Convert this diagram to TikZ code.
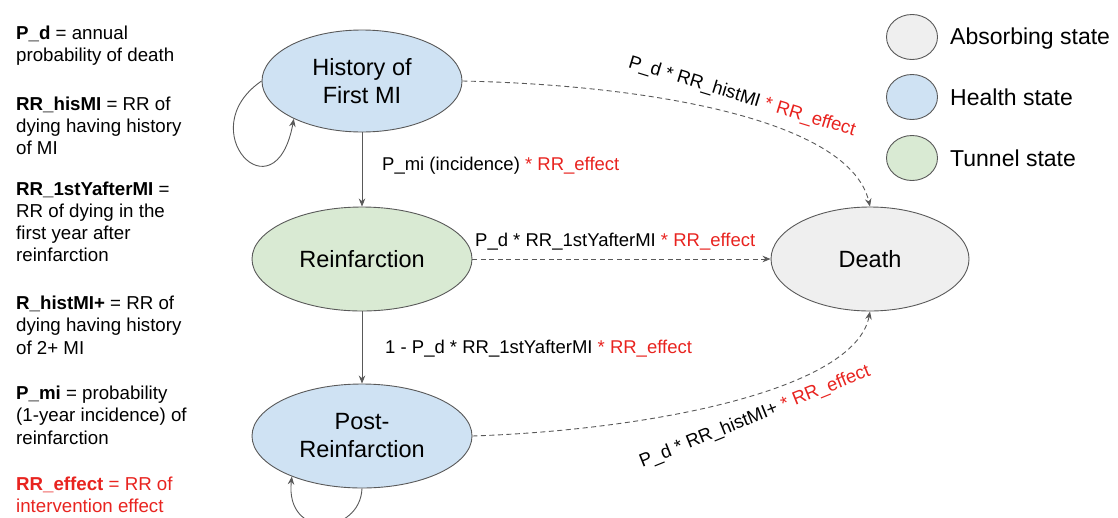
\documentclass[tikz,border=0pt]{standalone}
\usepackage{fontspec}
\setmainfont{Liberation Sans}
\usetikzlibrary{shapes.geometric,arrows.meta}
\definecolor{linegray}{HTML}{595959}
\definecolor{healthblue}{HTML}{CFE2F3}
\definecolor{tunnelgreen}{HTML}{D9EAD3}
\definecolor{absgray}{HTML}{EFEFEF}
\definecolor{effred}{HTML}{E8231F}
\begin{document}
\begin{tikzpicture}[x=1pt,y=1pt,
  state/.style={ellipse, draw=linegray, line width=0.9pt, inner sep=0pt, align=center,
    font=\fontsize{23.5}{28}\selectfont},
  solidedge/.style={draw=linegray, line width=0.9pt, -{Stealth[length=8pt,width=6.5pt]}},
  dashededge/.style={draw=linegray, line width=0.9pt, dash pattern=on 5pt off 3.5pt,
    -{Stealth[length=8pt,width=6.5pt]}},
  elabel/.style={inner sep=0pt, font=\fontsize{18.5}{22}\selectfont},
  deftext/.style={inner sep=0pt, align=left, font=\fontsize{18.7}{22.3}\selectfont},
  legcirc/.style={ellipse, draw=linegray, line width=0.9pt, minimum width=51pt, minimum height=45pt, inner sep=0pt},
  legtext/.style={inner sep=0pt, font=\fontsize{23}{27}\selectfont}
]
\useasboundingbox (0,0) rectangle (1118,-517);

% definitions on the left (anchor = baseline of the last line)
\node[deftext, anchor=base west] (d1) at (16,-61.8) {\textbf{P\_d} = annual\\probability of death};
\node[deftext, anchor=base west] (d2) at (16,-154.6) {\textbf{RR\_hisMI} = RR of\\dying having history\\of MI};
\node[deftext, anchor=base west] (d3) at (16,-261.9) {\textbf{RR\_1stYafterMI} =\\RR of dying in the\\first year after\\reinfarction};
\node[deftext, anchor=base west] (d4) at (16,-354.1) {\textbf{R\_histMI+} = RR of\\dying having history\\of 2+ MI};
\node[deftext, anchor=base west] (d5) at (16,-444.1) {\textbf{P\_mi} = probability\\(1-year incidence) of\\reinfarction};
\node[deftext, anchor=base west, text=effred] (d6) at (16,-512.3) {\textbf{RR\_effect} = RR of\\intervention effect};

% states
\node[state, fill=healthblue, minimum width=200pt, minimum height=102pt] (hist) at (362,-81) {History of\\First MI};
\node[state, fill=tunnelgreen, minimum width=220pt, minimum height=104pt] (reinf) at (362,-259) {Reinfarction};
\node[state, fill=healthblue, minimum width=220pt, minimum height=104pt] (post) at (362,-436) {Post-\\Reinfarction};
\node[state, fill=absgray, minimum width=198pt, minimum height=104pt] (death) at (870,-259) {Death};

% transitions
\draw[solidedge] (hist.south) -- (reinf.north);
\draw[solidedge] (reinf.south) -- (post.north);
\draw[dashededge] (reinf.east) -- (death.west);
\draw[dashededge] (hist.east) .. controls (650,-85) and (850,-120) .. (death.north);
\draw[dashededge] (post.east) .. controls (650,-430) and (855,-390) .. (death.south);

% self loops
\draw[solidedge] (hist.west) .. controls (190,-130) and (275,-220) .. (hist.209);
\draw[solidedge] (post.south) .. controls (360,-535) and (285,-540) .. (post.210);

% transition labels
\node[elabel, anchor=base west] (l1) at (382,-170) {P\_mi (incidence) \textcolor{effred}{* RR\_effect}};
\node[elabel, anchor=base west] (l2) at (475,-246) {P\_d * RR\_1stYafterMI \textcolor{effred}{* RR\_effect}};
\node[elabel, anchor=base west] (l3) at (385,-353.5) {1 - P\_d * RR\_1stYafterMI \textcolor{effred}{* RR\_effect}};
\node[elabel, rotate=-17] (l4) at (742,-97) {P\_d * RR\_histMI \textcolor{effred}{* RR\_effect}};
\node[elabel, rotate=22] (l5) at (755,-417) {P\_d * RR\_histMI+ \textcolor{effred}{* RR\_effect}};

% legend
\node[legcirc, fill=absgray] (g1) at (912,-37) {};
\node[legcirc, fill=healthblue] (g2) at (912,-97) {};
\node[legcirc, fill=tunnelgreen] (g3) at (912,-158) {};
\node[legtext, anchor=base west] (t1) at (950,-44) {Absorbing state};
\node[legtext, anchor=base west] (t2) at (950,-105) {Health state};
\node[legtext, anchor=base west] (t3) at (950,-166) {Tunnel state};
\end{tikzpicture}
\end{document}
